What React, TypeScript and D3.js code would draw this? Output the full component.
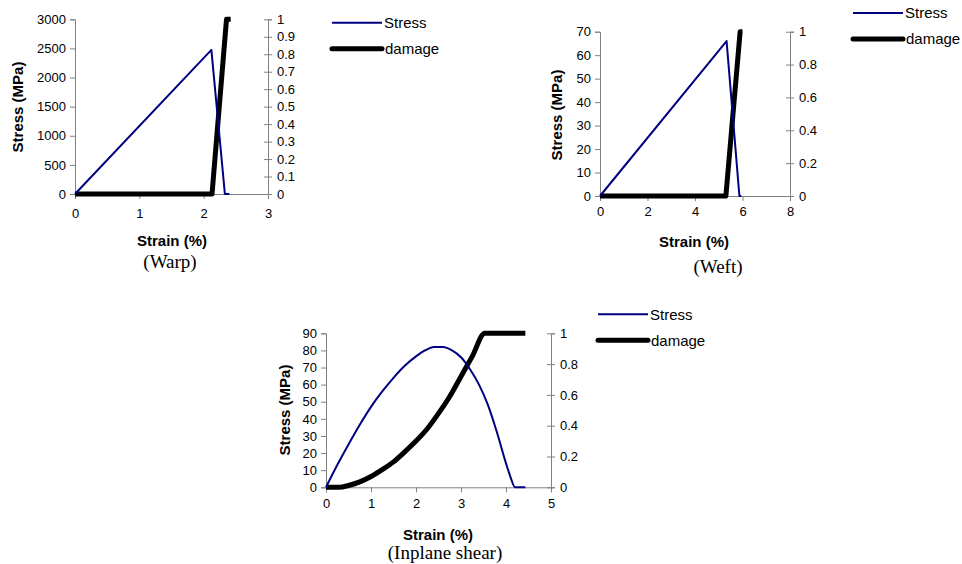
import React, { useRef, useEffect } from "react"
import * as d3 from "d3"

// warp
const warpStressX = [0, 2.12, 2.33, 2.4]
const warpStressY = [0, 2475, 0, 0]
const warpDamageX = [0, 2.13, 2.355, 2.42]
const warpDamageY = [0, 0, 1, 1]
const warpLeftTicks = [0, 500, 1000, 1500, 2000, 2500, 3000]
const warpRightTicks = [0, 0.1, 0.2, 0.3, 0.4, 0.5, 0.6, 0.7, 0.8, 0.9, 1]
const warpXTicks = [0, 1, 2, 3]

// weft
const weftStressX = [0, 5.33, 5.87, 5.95]
const weftStressY = [0, 66, 0, 0]
const weftDamageX = [0, 5.3, 5.9, 6.0]
const weftDamageY = [0, 0, 1, 1]
const weftLeftTicks = [0, 10, 20, 30, 40, 50, 60, 70]
const weftRightTicks = [0, 0.2, 0.4, 0.6, 0.8, 1]
const weftXTicks = [0, 2, 4, 6, 8]

// inplane shear
const shearStressX = [0, 0.25, 0.5, 0.75, 1.0, 1.25, 1.5, 1.75, 2.0, 2.2, 2.4, 2.6, 2.8, 3.0, 3.2, 3.4, 3.6, 3.8, 4.0, 4.1, 4.2, 4.43]
const shearStressY = [0, 13, 25, 36.5, 47, 56, 64, 71, 76.5, 80, 82, 82, 80, 76, 69, 60, 48, 32, 14, 6, 0, 0]
const shearDamageX = [0, 0.3, 0.5, 0.75, 1.0, 1.25, 1.5, 1.75, 2.0, 2.25, 2.5, 2.75, 3.0, 3.25, 3.53, 4.43]
const shearDamageY = [0, 0, 0.012, 0.035, 0.07, 0.115, 0.165, 0.23, 0.3, 0.38, 0.48, 0.59, 0.72, 0.85, 1, 1]
const shearLeftTicks = [0, 10, 20, 30, 40, 50, 60, 70, 80, 90]
const shearRightTicks = [0, 0.2, 0.4, 0.6, 0.8, 1]
const shearXTicks = [0, 1, 2, 3, 4, 5]

const seriesNames = ["Stress", "damage"]

const SANS = "'Liberation Sans', Arial, sans-serif"
const SERIF = "'Liberation Serif', 'Times New Roman', serif"
const AXIS = "#808080"

function drawPanel(svg, p) {
    var fmt = d3.format("~g")
    var x = d3.scaleLinear().domain([0, p.xTicks[p.xTicks.length - 1]]).range([p.left, p.right])
    var y = d3.scaleLinear().domain([0, p.leftTicks[p.leftTicks.length - 1]]).range([p.bottom, p.top])
    var y2 = d3.scaleLinear().domain([0, 1]).range([p.bottom, p.top])

    var g = svg.append("g")

    // left axis
    var la = g.append("g").attr("transform", "translate(" + p.left + ",0)")
        .call(d3.axisLeft(y).tickValues(p.leftTicks).tickSize(5).tickPadding(4).tickFormat(fmt))
    // right axis, ticks cross the line
    var ra = g.append("g").attr("transform", "translate(" + p.right + ",0)")
        .call(d3.axisRight(y2).tickValues(p.rightTicks).tickSize(4).tickPadding(5).tickFormat(fmt))
    ra.selectAll(".tick line").attr("x1", -4)
    // bottom axis
    var ba = g.append("g").attr("transform", "translate(0," + p.bottom + ")")
        .call(d3.axisBottom(x).tickValues(p.xTicks).tickSize(5).tickPadding(p.xPad).tickFormat(fmt))

    ;[la, ra, ba].forEach(a => {
        a.select(".domain").attr("stroke", AXIS)
        a.selectAll(".tick line").attr("stroke", AXIS)
        a.selectAll("text").attr("font-family", SANS).attr("font-size", "13px").attr("fill", "#000")
    })

    var stressLine = d3.line().x(d => x(d[0])).y(d => y(d[1])).curve(p.curve)
    var damageLine = d3.line().x(d => x(d[0])).y(d => y2(d[1])).curve(p.curve)

    g.append("path")
        .datum(p.damageX.map((v, i) => [v, p.damageY[i]]))
        .attr("d", damageLine)
        .attr("fill", "none").attr("stroke", "#000").attr("stroke-width", 5)
        .attr("stroke-linejoin", "round")

    g.append("path")
        .datum(p.stressX.map((v, i) => [v, p.stressY[i]]))
        .attr("d", stressLine)
        .attr("fill", "none").attr("stroke", "#000080").attr("stroke-width", 2)
        .attr("stroke-linejoin", "round")

    // axis titles
    g.append("text")
        .attr("transform", "translate(" + p.yTitle[0] + "," + p.yTitle[1] + ") rotate(-90)")
        .attr("text-anchor", "middle").attr("dy", "0.35em")
        .attr("font-family", SANS).attr("font-size", "15px").attr("font-weight", "bold")
        .text("Stress (MPa)")
    g.append("text")
        .attr("x", p.xTitle[0]).attr("y", p.xTitle[1])
        .attr("text-anchor", "middle")
        .attr("font-family", SANS).attr("font-size", "15px").attr("font-weight", "bold")
        .text("Strain (%)")
    g.append("text")
        .attr("x", p.caption[0]).attr("y", p.caption[1])
        .attr("text-anchor", "middle")
        .attr("font-family", SERIF).attr("font-size", "19px")
        .text(p.captionText)

    // legend
    var lg = g.append("g").attr("transform", "translate(" + p.legend[0] + "," + p.legend[1] + ")")
    seriesNames.forEach((name, i) => {
        var ly = i * 26
        lg.append("line")
            .attr("x1", 0).attr("x2", 50).attr("y1", ly).attr("y2", ly)
            .attr("stroke", i == 0 ? "#000080" : "#000")
            .attr("stroke-width", i == 0 ? 2 : 5)
            .attr("stroke-linecap", i == 0 ? "butt" : "round")
        lg.append("text")
            .attr("x", i == 0 ? 52 : 53).attr("y", ly).attr("dy", "0.35em")
            .attr("font-family", SANS).attr("font-size", "15px")
            .text(name)
    })
}

export default function App() {
    const svgRef = useRef()

    useEffect(() => {
        var svg = d3.select(svgRef.current)
        svg.selectAll("*").remove()

        drawPanel(svg, {
            left: 75, right: 268, top: 19.3, bottom: 194,
            leftTicks: warpLeftTicks, rightTicks: warpRightTicks, xTicks: warpXTicks, xPad: 10,
            stressX: warpStressX, stressY: warpStressY, damageX: warpDamageX, damageY: warpDamageY,
            curve: d3.curveLinear,
            yTitle: [18, 107], xTitle: [172, 246], caption: [170, 268], captionText: "(Warp)",
            legend: [332, 22.7]
        })
        drawPanel(svg, {
            left: 600, right: 790, top: 31.7, bottom: 196,
            leftTicks: weftLeftTicks, rightTicks: weftRightTicks, xTicks: weftXTicks, xPad: 6,
            stressX: weftStressX, stressY: weftStressY, damageX: weftDamageX, damageY: weftDamageY,
            curve: d3.curveLinear,
            yTitle: [557, 115], xTitle: [694, 247], caption: [718, 273], captionText: "(Weft)",
            legend: [853, 13]
        })
        drawPanel(svg, {
            left: 326, right: 551, top: 333.3, bottom: 487.3,
            leftTicks: shearLeftTicks, rightTicks: shearRightTicks, xTicks: shearXTicks, xPad: 6,
            stressX: shearStressX, stressY: shearStressY, damageX: shearDamageX, damageY: shearDamageY,
            curve: d3.curveMonotoneX,
            yTitle: [285, 410], xTitle: [438, 540], caption: [445, 559], captionText: "(Inplane shear)",
            legend: [598, 314.3]
        })
    }, [])

    return (
        <svg ref={svgRef} width={962} height={564}
            style={{ position: "absolute", left: 0, top: 0, background: "#fff" }}></svg>
    )
}
